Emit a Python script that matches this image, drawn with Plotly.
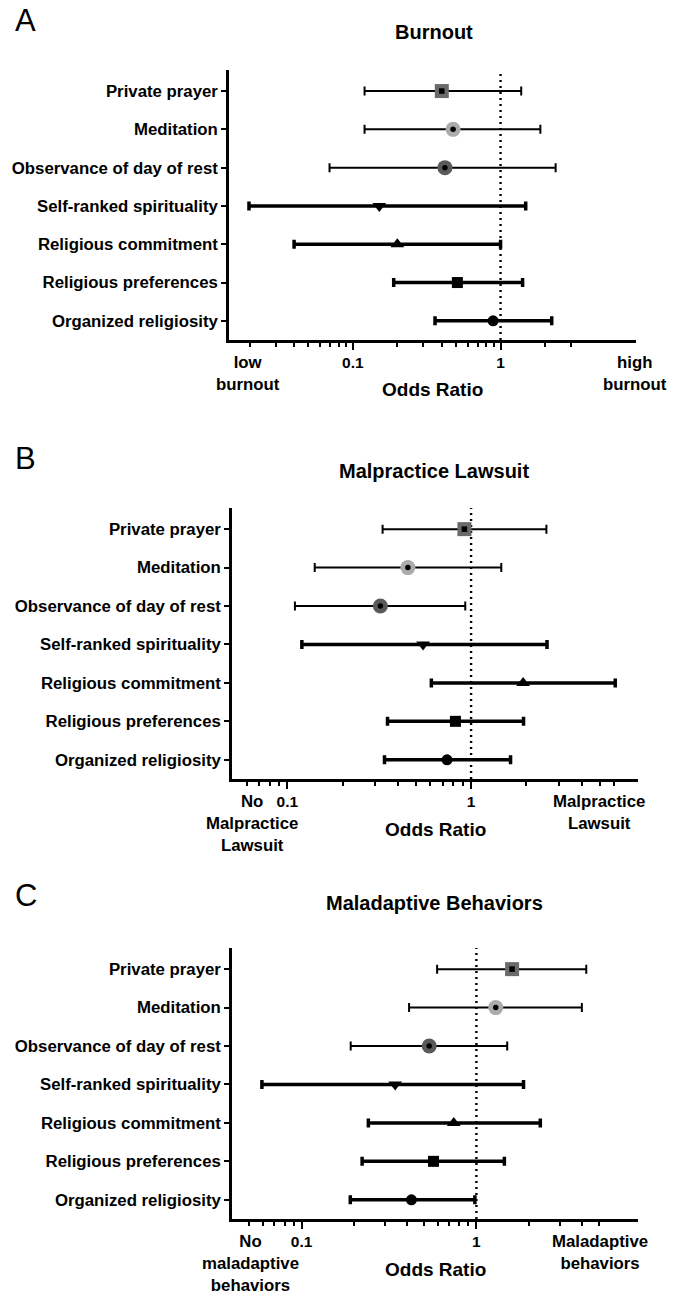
import math
import plotly.graph_objects as go

# ---------------- data (bottom row first) ----------------
categories = ["Organized religiosity", "Religious preferences", "Religious commitment",
              "Self-ranked spirituality", "Observance of day of rest", "Meditation",
              "Private prayer"]

burnout_or = [0.89, 0.51, 0.20, 0.151, 0.42, 0.477, 0.40]
burnout_lo = [0.36, 0.189, 0.040, 0.0198, 0.0695, 0.12, 0.12]
burnout_hi = [2.22, 1.41, 1.00, 1.48, 2.36, 1.86, 1.38]

lawsuit_or = [0.74, 0.822, 1.92, 0.548, 0.321, 0.453, 0.92]
lawsuit_lo = [0.338, 0.351, 0.608, 0.12, 0.110, 0.141, 0.33]
lawsuit_hi = [1.64, 1.93, 6.09, 2.59, 0.93, 1.46, 2.57]

maladapt_or = [0.425, 0.568, 0.742, 0.343, 0.537, 1.29, 1.60]
maladapt_lo = [0.19, 0.222, 0.241, 0.0593, 0.191, 0.412, 0.596]
maladapt_hi = [0.98, 1.445, 2.32, 1.86, 1.50, 4.01, 4.25]

panel_titles = ["Burnout", "Malpractice Lawsuit", "Maladaptive Behaviors"]
panel_letters = ["A", "B", "C"]
major_ticks = [0.1, 1]
major_text = ["0.1", "1"]
low_labels = ["low<br>burnout", "No<br>Malpractice<br>Lawsuit", "No<br>maladaptive<br>behaviors"]
high_labels = ["high<br>burnout", "Malpractice<br>Lawsuit", "Maladaptive<br>behaviors"]
x_ranges = [(0.0145, 8.26), (0.05, 8.1), (0.04, 8.4)]
minor_A = [0.02, 0.03, 0.04, 0.05, 0.06, 0.07, 0.08, 0.09,
           0.2, 0.3, 0.4, 0.5, 0.6, 0.7, 0.8, 0.9, 2, 3]
minor_B = [0.06, 0.07, 0.08, 0.09, 0.2, 0.3, 0.4, 0.5, 0.6, 0.7, 0.8, 0.9, 2, 3, 4, 5, 6]
minor_C = [0.05, 0.06, 0.07, 0.08, 0.09, 0.2, 0.3, 0.4, 0.5, 0.6, 0.7, 0.8, 0.9, 2, 3, 4, 5]

# ---------------- styling ----------------
W, H = 682, 1294
FONT = "Liberation Sans, Arial, sans-serif"
styles = [
    dict(symbol="circle", size=11, color="black", inner=None, thick=3.5),
    dict(symbol="square", size=11, color="black", inner=None, thick=3.5),
    dict(symbol="triangle-up", size=12, color="black", inner=None, thick=3.5),
    dict(symbol="triangle-down", size=12, color="black", inner=None, thick=3.5),
    dict(symbol="circle", size=15, color="#5a5a5a", inner="circle", thick=2),
    dict(symbol="circle", size=15, color="#ababab", inner="circle", thick=2),
    dict(symbol="square", size=14, color="#6a6a6a", inner="square", thick=2),
]

panels = [
    dict(orv=burnout_or, lo=burnout_lo, hi=burnout_hi, minor=minor_A,
         xdom=(229, 636), ytop=70, ybot=340, title_y=32, letter_y=20.5,
         low_x=248, low_y=374, high_x=635, high_y=374, or_x=432, or_y=390),
    dict(orv=lawsuit_or, lo=lawsuit_lo, hi=lawsuit_hi, minor=minor_B,
         xdom=(232, 638), ytop=508, ybot=779, title_y=471, letter_y=459,
         low_x=252, low_y=823, high_x=599, high_y=812, or_x=435, or_y=829),
    dict(orv=maladapt_or, lo=maladapt_lo, hi=maladapt_hi, minor=minor_C,
         xdom=(232, 638), ytop=948, ybot=1219, title_y=903, letter_y=895,
         low_x=250, low_y=1263, high_x=600, high_y=1252, or_x=435, or_y=1269),
]


def px_x(v):
    return v / W


def px_y(v):
    return 1 - v / H


Y_RANGE = [-0.5, 6.55]

fig = go.Figure()
layout = dict(width=W, height=H, margin=dict(l=0, r=0, t=0, b=0),
              paper_bgcolor="white", plot_bgcolor="white", showlegend=False,
              font=dict(family=FONT, color="black"))
annotations = []

for p, panel in enumerate(panels):
    sfx = "" if p == 0 else str(p + 1)
    xa, ya = "x" + sfx, "y" + sfx
    # reference line at OR = 1
    fig.add_trace(go.Scatter(x=[1, 1], y=Y_RANGE, mode="lines", xaxis=xa, yaxis=ya,
                             line=dict(color="black", width=2.4, dash="2px,4px"),
                             hoverinfo="skip"))
    for i, cat in enumerate(categories):
        st = styles[i]
        o, l, h = panel["orv"][i], panel["lo"][i], panel["hi"][i]
        fig.add_trace(go.Scatter(
            x=[o], y=[i], mode="markers", xaxis=xa, yaxis=ya, name=cat,
            marker=dict(symbol=st["symbol"], size=st["size"], color=st["color"],
                        line=dict(width=0)),
            error_x=dict(type="data", symmetric=False, array=[h - o], arrayminus=[o - l],
                         color="black", thickness=st["thick"], width=4.5)))
        if st["inner"]:
            fig.add_trace(go.Scatter(
                x=[o], y=[i], mode="markers", xaxis=xa, yaxis=ya, hoverinfo="skip",
                marker=dict(symbol=st["inner"], size=5.5, color="black", line=dict(width=0))))

    x0, x1 = x_ranges[p]
    layout["xaxis" + sfx] = dict(
        type="log", range=[math.log10(x0), math.log10(x1)],
        domain=[px_x(panel["xdom"][0]), px_x(panel["xdom"][1])], anchor=ya,
        showline=True, linewidth=2.5, linecolor="black", showgrid=False, zeroline=False,
        tickmode="array", tickvals=major_ticks, ticktext=major_text,
        ticks="outside", ticklen=7, tickwidth=2, tickcolor="black",
        tickfont=dict(family=FONT, size=15.5, color="black", weight="bold"),
        minor=dict(tickmode="array", tickvals=panel["minor"], ticks="outside",
                   ticklen=4, tickwidth=2, tickcolor="black", showgrid=False),
        fixedrange=True)
    layout["yaxis" + sfx] = dict(
        range=Y_RANGE, domain=[px_y(panel["ybot"]), px_y(panel["ytop"])], anchor=xa,
        showline=True, linewidth=2.5, linecolor="black", showgrid=False, zeroline=False,
        tickmode="array", tickvals=list(range(len(categories))), ticktext=categories,
        ticks="outside", ticklen=5, tickwidth=2, tickcolor="black",
        tickfont=dict(family=FONT, size=16.8, color="black", weight="bold"),
        fixedrange=True)

    def ann(text, x, y, size, bold=True):
        annotations.append(dict(
            text=text, x=px_x(x), y=px_y(y), xref="paper", yref="paper",
            xanchor="center", yanchor="middle", showarrow=False,
            font=dict(family=FONT, size=size, color="black",
                      weight="bold" if bold else "normal")))

    ann(panel_titles[p], 434, panel["title_y"], 20)
    ann(panel_letters[p], 25.5, panel["letter_y"], 31, bold=False)
    ann(low_labels[p], panel["low_x"], panel["low_y"], 16.8)
    ann(high_labels[p], panel["high_x"], panel["high_y"], 16.8)
    ann("Odds Ratio", panel["or_x"], panel["or_y"], 19)

layout["annotations"] = annotations
fig.update_layout(**layout)
fig.write_html("out.html", config={"displayModeBar": False},
               post_script="document.body.style.margin='0';document.body.style.overflow='hidden';")
